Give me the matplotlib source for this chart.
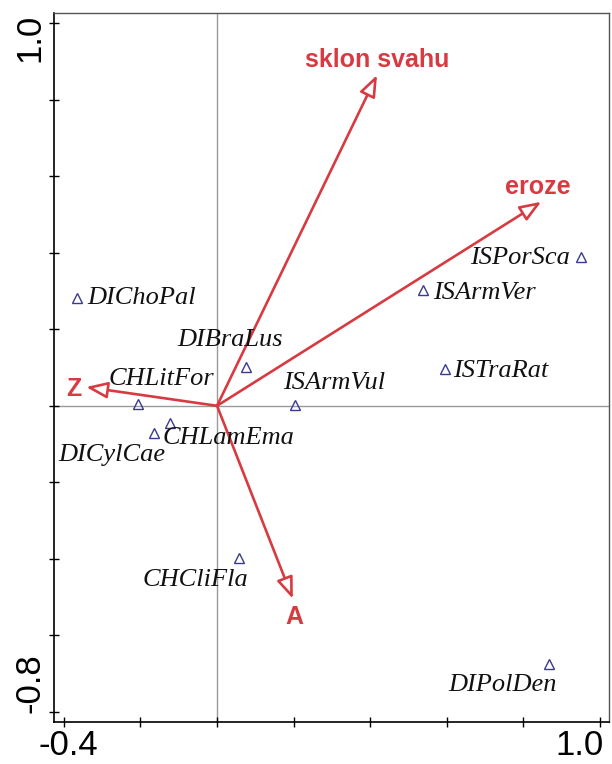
import matplotlib
matplotlib.use("Agg")
import matplotlib.pyplot as plt

# species scores (axis 1, axis 2)
species = ["DIChoPal", "DIBraLus", "CHLitFor", "CHLamEma", "DICylCae", "ISArmVul",
           "ISArmVer", "ISPorSca", "ISTraRat", "CHCliFla", "DIPolDen"]
sp_x = [-0.366, 0.076, -0.206, -0.165, -0.123, 0.204, 0.538, 0.951, 0.595, 0.057, 0.867]
sp_y = [0.282, 0.101, 0.005, -0.071, -0.045, 0.002, 0.302, 0.389, 0.096, -0.398, -0.674]

# environmental variables (arrow tips)
env = ["sklon svahu", "eroze", "Z", "A"]
env_x = [0.418, 0.847, -0.342, 0.198]
env_y = [0.864, 0.533, 0.049, -0.504]

xticks = [-0.4, -0.2, 0.0, 0.2, 0.4, 0.6, 0.8, 1.0]
yticks = [1.0, 0.8, 0.6, 0.4, 0.2, 0.0, -0.2, -0.4, -0.6, -0.8]

RED = "#d83a42"
NAVY = "#3b3b8c"

# label placement: (dx, dy) in pixels from the point, horizontal alignment
sp_lab = {
    "DIChoPal": (10, 0, "left"),
    "DIBraLus": (-16, 27, "center"),
    "CHLitFor": (23, 25, "center"),
    "CHLamEma": (9, -5, "left"),
    "DICylCae": (-5, -32, "right"),
    "ISArmVul": (-12, 22, "left"),
    "ISArmVer": (10, -3, "left"),
    "ISPorSca": (-11, -1, "right"),
    "ISTraRat": (8, -2, "left"),
    "CHCliFla": (-43, -22, "center"),
    "DIPolDen": (8, -21, "right"),
}
env_lab = {
    "sklon svahu": (0, 15),
    "eroze": (-3, 15),
    "Z": (-12, -2),
    "A": (2, -18),
}

fig = plt.figure(figsize=(6.12, 7.64), dpi=100)
ax = fig.add_axes([0.0882, 0.0550, 0.9069, 0.9284])
ax.set_xlim(-0.426, 1.024)
ax.set_ylim(-0.826, 1.027)

ax.axhline(0, color="#9a9a9a", lw=1, zorder=1)
ax.axvline(0, color="#9a9a9a", lw=1, zorder=1)

for name, x, y in zip(env, env_x, env_y):
    ax.annotate("", xy=(x, y), xytext=(0, 0),
                arrowprops=dict(arrowstyle="-|>,head_length=1.3,head_width=0.5",
                                mutation_scale=10, ec=RED, fc="white", lw=1.9,
                                shrinkA=0, shrinkB=0), zorder=3)
    dx, dy = env_lab[name]
    ax.annotate(name, xy=(x, y), xytext=(dx, dy), textcoords="offset pixels",
                ha="center", va="center", color=RED, fontsize=18,
                fontweight="bold", family="Liberation Sans", zorder=4)

ax.plot(sp_x, sp_y, "^", ms=7.5, mfc="none", mec=NAVY, mew=1, zorder=2)
for name, x, y in zip(species, sp_x, sp_y):
    dx, dy, ha = sp_lab[name]
    ax.annotate(name, xy=(x, y), xytext=(dx, dy), textcoords="offset pixels",
                ha=ha, va="center", fontsize=19, style="italic",
                family="Liberation Serif", color="#111111", zorder=4)

ax.set_xticks(xticks)
ax.set_yticks(yticks)
ax.set_xticklabels([])
ax.set_yticklabels([])
ax.tick_params(direction="inout", length=7, width=1, color="black")
for s in ["left", "bottom"]:
    ax.spines[s].set_color("black")
    ax.spines[s].set_linewidth(1.2)
for s in ["top", "right"]:
    ax.spines[s].set_color("#555555")
    ax.spines[s].set_linewidth(1)

tick_font = dict(fontsize=25, family="Liberation Sans", ha="center", va="center")
ax.annotate("-0.4", xy=(xticks[0], 0), xycoords=("data", "axes fraction"),
            xytext=(4, -24), textcoords="offset pixels", **tick_font)
ax.annotate("1.0", xy=(xticks[-1], 0), xycoords=("data", "axes fraction"),
            xytext=(-20, -24), textcoords="offset pixels", **tick_font)
ax.annotate("1.0", xy=(0, yticks[0]), xycoords=("axes fraction", "data"),
            xytext=(-24, -15), textcoords="offset pixels", rotation=90, **tick_font)
ax.annotate("-0.8", xy=(0, yticks[-1]), xycoords=("axes fraction", "data"),
            xytext=(-24, 29), textcoords="offset pixels", rotation=90, **tick_font)

fig.savefig("out.png", dpi=100)
